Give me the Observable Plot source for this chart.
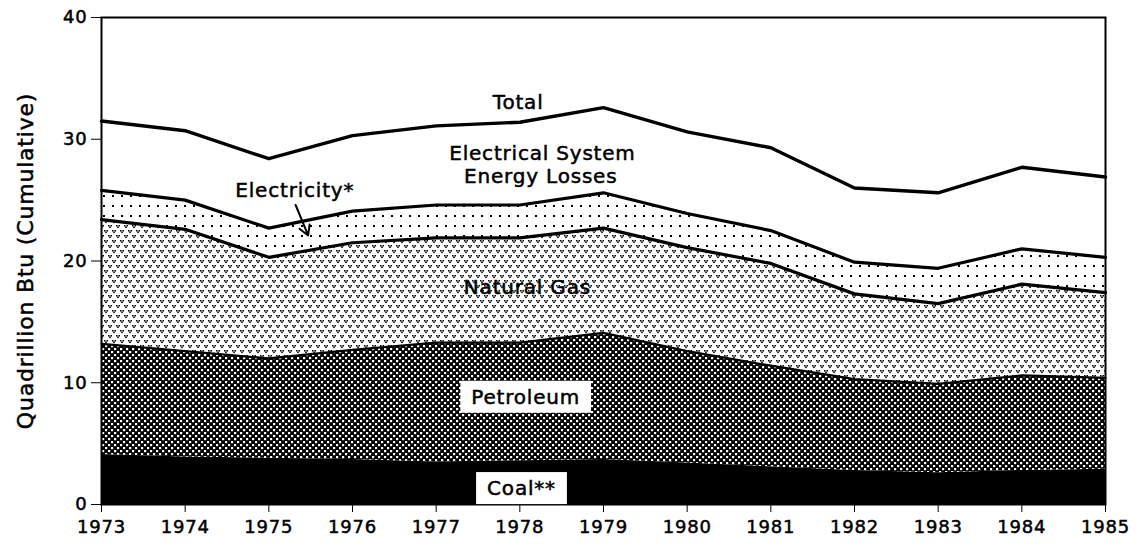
<!DOCTYPE html>
<html>
<head>
<meta charset="utf-8">
<script src="https://cdn.jsdelivr.net/npm/d3@7"></script>
<script src="https://cdn.jsdelivr.net/npm/@observablehq/plot@0.6"></script>
<style>
  html, body { margin: 0; padding: 0; background: #fff; }
  #chart { width: 1136px; height: 544px; }
  #chart svg text { stroke: #000; stroke-width: 0.5px; }
</style>
</head>
<body>
<div id="chart"></div>
<script>
// ---- data ----
const years = [1973,1974,1975,1976,1977,1978,1979,1980,1981,1982,1983,1984,1985];
const coal        = [4.1,3.9,3.8,3.7,3.5,3.6,3.7,3.4,3.1,2.8,2.6,2.8,2.9];
const petroleum   = [9.1,8.7,8.2,9.0,9.8,9.7,10.4,9.2,8.3,7.5,7.3,7.8,7.5];
const naturalGas  = [10.2,10.0,8.3,8.8,8.6,8.6,8.6,8.5,8.4,7.0,6.6,7.5,7.0];
const electricity = [2.4,2.4,2.4,2.6,2.7,2.7,2.9,2.8,2.7,2.6,2.9,2.9,2.9];
const losses      = [5.7,5.7,5.7,6.2,6.5,6.8,7.0,6.7,6.8,6.1,6.2,6.7,6.6];
const seriesNames = ["Coal", "Petroleum", "Natural Gas", "Electricity", "Losses"];
const yTicks = [0, 10, 20, 30, 40];
const yLabel = "Quadrillion Btu (Cumulative)";

// annotation texts (data coordinates)
const labels = [
  {text: "Total", x: 1977.98, y: 33.0},
  {text: "Electrical System", x: 1978.27, y: 28.8},
  {text: "Energy Losses", x: 1978.25, y: 26.9},
  {text: "Electricity*", x: 1975.31, y: 25.8},
  {text: "Natural Gas", x: 1978.09, y: 17.8}
];
const boxedLabels = [
  {text: "Petroleum", x: 1978.07, y: 8.8},
  {text: "Coal**", x: 1978.02, y: 1.3}
];
const arrows = [{x1: 1975.32, y1: 24.6, x2: 1975.47, y2: 22.1}];

// ---- build long table ----
const valuesBySeries = [coal, petroleum, naturalGas, electricity, losses];
const rows = [];
seriesNames.forEach((s, i) => years.forEach((yr, j) => rows.push({year: yr, series: s, value: valuesBySeries[i][j]})));

const fills = ["#000", "url(#pPet)", "url(#pGas)", "url(#pElec)", "#fff"];
const lineWidths = {"Coal": 0, "Petroleum": 2.2, "Natural Gas": 3.2, "Electricity": 3.2, "Losses": 3.4};

const font = "'DejaVu Sans', sans-serif";

const plot = Plot.plot({
  width: 1136,
  height: 544,
  marginLeft: 101,
  marginRight: 31,
  marginTop: 17,
  marginBottom: 40,
  style: {fontFamily: font, fontSize: "18px", color: "#000", background: "#fff", overflow: "visible", letterSpacing: "0.8px"},
  x: {domain: [1973, 1985], ticks: years, tickFormat: "d", tickSize: 8, tickPadding: 8, label: null},
  y: {domain: [0, 40], ticks: yTicks, tickSize: 10, tickPadding: 4, label: yLabel, labelAnchor: "center", labelArrow: "none", labelOffset: 84},
  color: {type: "ordinal", domain: seriesNames, range: fills},
  marks: [
    Plot.areaY(rows, {x: "year", y: "value", z: "series", fill: "series", order: seriesNames}),
    Plot.lineY(rows, Plot.stackY2({x: "year", y: "value", z: "series", order: seriesNames, stroke: "#000", strokeWidth: d => lineWidths[d.series], strokeLinejoin: "round"})),
    Plot.frame({stroke: "#000", strokeWidth: 2}),
    Plot.text(labels, {x: "x", y: "y", text: "text", fill: "#000", fontSize: 20}),
    Plot.text(boxedLabels, {x: "x", y: "y", text: "text", fill: "#000", fontSize: 20, className: "boxed"}),
    Plot.arrow(arrows, {x1: "x1", y1: "y1", x2: "x2", y2: "y2", stroke: "#000", strokeWidth: 2, headLength: 10})
  ]
});

// pattern definitions
const defs = document.createElementNS("http://www.w3.org/2000/svg", "defs");
defs.innerHTML = `
  <pattern id="pPet" width="6" height="6" patternUnits="userSpaceOnUse">
    <rect width="6" height="6" fill="#000"/>
    <rect x="0" y="0" width="2.2" height="2.2" fill="#fff"/>
    <rect x="3" y="3" width="2.2" height="2.2" fill="#fff"/>
  </pattern>
  <pattern id="pGas" width="8" height="10" patternUnits="userSpaceOnUse">
    <rect width="8" height="10" fill="#fff"/>
    <rect x="0" y="0" width="1.5" height="1.5" fill="#000"/>
    <rect x="2.5" y="0" width="1.5" height="1.5" fill="#000"/>
    <rect x="1.2" y="1.5" width="1.6" height="1.6" fill="#000"/>
    <rect x="4" y="5" width="1.5" height="1.5" fill="#000"/>
    <rect x="6.5" y="5" width="1.5" height="1.5" fill="#000"/>
    <rect x="5.2" y="6.5" width="1.6" height="1.6" fill="#000"/>
  </pattern>
  <pattern id="pElec" width="9" height="10" patternUnits="userSpaceOnUse">
    <rect width="9" height="10" fill="#fff"/>
    <rect x="4" y="5" width="2" height="2" fill="#000"/>
  </pattern>`;
plot.insertBefore(defs, plot.firstChild);
document.getElementById("chart").appendChild(plot);

// y-axis title a bit larger, like the reference
plot.querySelectorAll("text").forEach(t => {
  if (t.textContent === yLabel) t.setAttribute("font-size", 22);
});

// white boxes behind boxed labels
plot.querySelectorAll("g.boxed text").forEach(t => {
  const b = t.getBBox();
  const r = document.createElementNS("http://www.w3.org/2000/svg", "rect");
  r.setAttribute("x", b.x - 11);
  r.setAttribute("y", b.y - 4);
  r.setAttribute("width", b.width + 22);
  r.setAttribute("height", b.height + 8);
  r.setAttribute("fill", "#fff");
  r.setAttribute("stroke", "none");
  if (t.getAttribute("transform")) r.setAttribute("transform", t.getAttribute("transform"));
  t.parentNode.insertBefore(r, t);
});
</script>
</body>
</html>
